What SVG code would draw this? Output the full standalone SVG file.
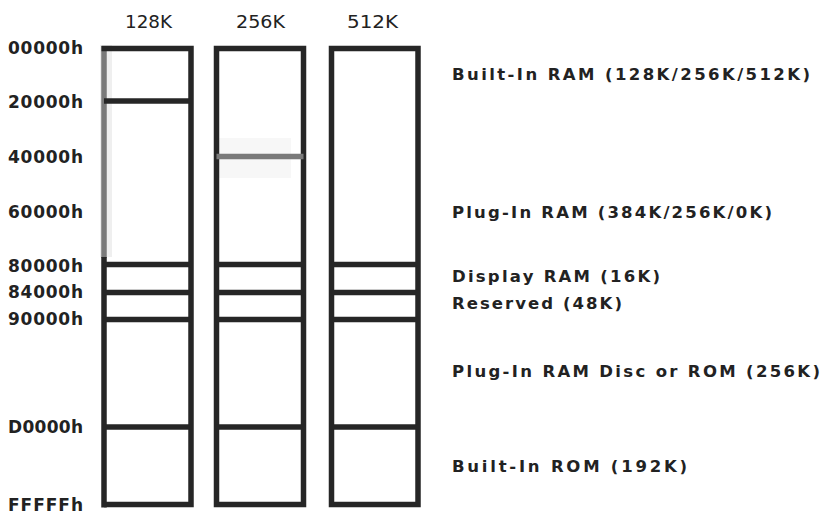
<svg xmlns="http://www.w3.org/2000/svg" width="825" height="514" viewBox="0 0 825 514">
<style>
.box{fill:none;stroke:#262626;stroke-width:5.5;stroke-linejoin:miter}
.div{stroke:#262626;stroke-width:5.5}
.grey{stroke:#7a7a7a;stroke-width:5.5}
.addr{font-family:"DejaVu Sans","Liberation Sans",sans-serif;font-weight:bold;font-size:17px;fill:#222}
.head{font-family:"DejaVu Sans","Liberation Sans",sans-serif;font-size:17px;fill:#222}
.desc{font-family:"DejaVu Sans","Liberation Sans",sans-serif;font-weight:bold;font-size:16.5px;fill:#222}
</style>
<rect width="825" height="514" fill="#ffffff"/>
<g id="headers">
<text class="head" x="125" y="28" textLength="47" lengthAdjust="spacingAndGlyphs">128K</text>
<text class="head" x="236" y="28" textLength="49" lengthAdjust="spacingAndGlyphs">256K</text>
<text class="head" x="347" y="28" textLength="51" lengthAdjust="spacingAndGlyphs">512K</text>
</g>
<g id="addresses">
<text class="addr" x="8" y="54" textLength="75" lengthAdjust="spacing">00000h</text>
<text class="addr" x="8" y="108" textLength="75" lengthAdjust="spacing">20000h</text>
<text class="addr" x="8" y="163" textLength="75" lengthAdjust="spacing">40000h</text>
<text class="addr" x="8" y="218" textLength="75" lengthAdjust="spacing">60000h</text>
<text class="addr" x="8" y="272" textLength="75" lengthAdjust="spacing">80000h</text>
<text class="addr" x="8" y="298" textLength="75" lengthAdjust="spacing">84000h</text>
<text class="addr" x="8" y="325" textLength="75" lengthAdjust="spacing">90000h</text>
<text class="addr" x="8" y="433" textLength="75" lengthAdjust="spacing">D0000h</text>
<text class="addr" x="8" y="511" textLength="75" lengthAdjust="spacing">FFFFFh</text>
</g>
<g id="col-128K">
<rect x="100" y="45" width="12" height="212" fill="#efefef"/>
<line class="grey" x1="104" y1="46" x2="104" y2="258"/>
<line class="div" x1="104" y1="257" x2="104" y2="507.5"/>
<polyline class="box" points="101.5,48.5 191,48.5 191,504.5 104,504.5"/>
<line class="div" x1="104" y1="101" x2="191" y2="101"/>
<line class="div" x1="104" y1="264.5" x2="191" y2="264.5"/>
<line class="div" x1="104" y1="292.5" x2="191" y2="292.5"/>
<line class="div" x1="104" y1="319.5" x2="191" y2="319.5"/>
<line class="div" x1="104" y1="427" x2="191" y2="427"/>
</g>
<g id="col-256K">
<rect x="219" y="138" width="72" height="40" fill="#f7f7f7"/>
<rect class="box" x="216.5" y="48.5" width="87" height="456"/>
<line class="grey" x1="216.5" y1="156.5" x2="303.5" y2="156.5"/>
<line class="div" x1="216.5" y1="264.5" x2="303.5" y2="264.5"/>
<line class="div" x1="216.5" y1="292.5" x2="303.5" y2="292.5"/>
<line class="div" x1="216.5" y1="319.5" x2="303.5" y2="319.5"/>
<line class="div" x1="216.5" y1="427" x2="303.5" y2="427"/>
</g>
<g id="col-512K">
<rect class="box" x="331.5" y="48.5" width="86.5" height="456"/>
<line class="div" x1="331.5" y1="264.5" x2="418" y2="264.5"/>
<line class="div" x1="331.5" y1="292.5" x2="418" y2="292.5"/>
<line class="div" x1="331.5" y1="319.5" x2="418" y2="319.5"/>
<line class="div" x1="331.5" y1="427" x2="418" y2="427"/>
</g>
<g id="legend">
<text class="desc" x="452" y="80" textLength="358" lengthAdjust="spacing">Built-In RAM (128K/256K/512K)</text>
<text class="desc" x="452" y="218" textLength="320" lengthAdjust="spacing">Plug-In RAM (384K/256K/0K)</text>
<text class="desc" x="452" y="282" textLength="208" lengthAdjust="spacing">Display RAM (16K)</text>
<text class="desc" x="452" y="309" textLength="170" lengthAdjust="spacing">Reserved (48K)</text>
<text class="desc" x="452" y="377" textLength="368" lengthAdjust="spacing">Plug-In RAM Disc or ROM (256K)</text>
<text class="desc" x="452" y="472" textLength="235" lengthAdjust="spacing">Built-In ROM (192K)</text>
</g>
</svg>
